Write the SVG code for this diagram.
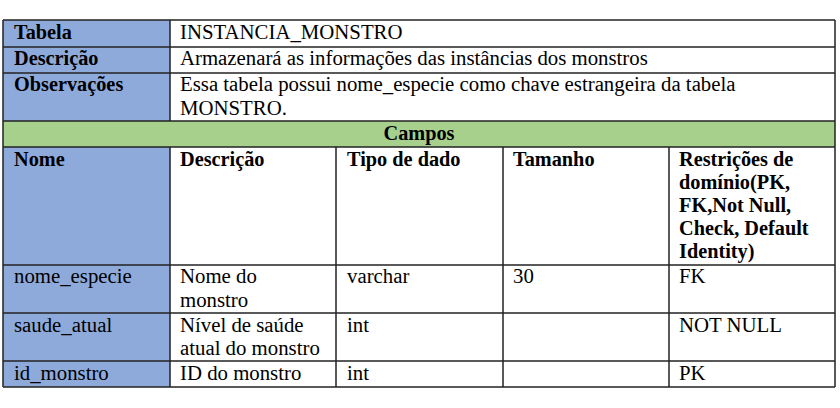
<svg xmlns="http://www.w3.org/2000/svg" width="840" height="408" viewBox="0 0 840 408">
<style>
text{font-family:"Liberation Serif","Times New Roman",serif;font-size:20.8px;fill:#000}
.b{font-weight:bold;font-size:20.3px}
.blue{fill:#8EAADB}
.green{fill:#A8D08D}
.grid line{stroke:#222;stroke-width:1.5}
</style>
<rect x="0" y="0" width="840" height="408" fill="#fff"/>
<g id="fills">
<rect class="blue" x="3" y="20" width="167" height="101"/>
<rect class="green" x="3" y="121" width="832" height="26"/>
<rect class="blue" x="3" y="147" width="167" height="240"/>
</g>
<g id="grid" class="grid">
<line x1="3" y1="20" x2="835" y2="20"/>
<line x1="3" y1="47" x2="835" y2="47"/>
<line x1="3" y1="73" x2="835" y2="73"/>
<line x1="3" y1="121" x2="835" y2="121"/>
<line x1="3" y1="147" x2="835" y2="147"/>
<line x1="3" y1="265" x2="835" y2="265"/>
<line x1="3" y1="313" x2="835" y2="313"/>
<line x1="3" y1="361" x2="835" y2="361"/>
<line x1="3" y1="387" x2="835" y2="387"/>
<line x1="3" y1="20" x2="3" y2="387"/>
<line x1="835" y1="20" x2="835" y2="387"/>
<line x1="170" y1="20" x2="170" y2="121"/>
<line x1="170" y1="147" x2="170" y2="387"/>
<line x1="336" y1="147" x2="336" y2="387"/>
<line x1="503" y1="147" x2="503" y2="387"/>
<line x1="669" y1="147" x2="669" y2="387"/>
</g>
<g id="meta">
<text class="b" x="14" y="39">Tabela</text>
<text x="180" y="39">INSTANCIA_MONSTRO</text>
<text class="b" x="14" y="65">Descrição</text>
<text x="180" y="65">Armazenará as informações das instâncias dos monstros</text>
<text class="b" x="14" y="91">Observações</text>
<text x="180" y="91">Essa tabela possui nome_especie como chave estrangeira da tabela</text>
<text x="180" y="115">MONSTRO.</text>
<text class="b" x="419" y="140" text-anchor="middle">Campos</text>
</g>
<g id="header">
<text class="b" x="14" y="165.5">Nome</text>
<text class="b" x="180" y="165.5">Descrição</text>
<text class="b" x="347" y="165.5">Tipo de dado</text>
<text class="b" x="513" y="165.5">Tamanho</text>
<text class="b" x="679" y="165.5">Restrições de</text>
<text class="b" x="679" y="188.7">domínio(PK,</text>
<text class="b" x="679" y="211.9">FK,Not Null,</text>
<text class="b" x="679" y="235.1">Check, Default</text>
<text class="b" x="679" y="258.3">Identity)</text>
</g>
<g id="row-nome_especie">
<text x="14" y="283.3">nome_especie</text>
<text x="180" y="283.3">Nome do</text>
<text x="180" y="306.7">monstro</text>
<text x="347" y="283.3">varchar</text>
<text x="513" y="283.3">30</text>
<text x="679" y="283.3">FK</text>
</g>
<g id="row-saude_atual">
<text x="14" y="331.7">saude_atual</text>
<text x="180" y="331.7">Nível de saúde</text>
<text x="180" y="355">atual do monstro</text>
<text x="347" y="331.7">int</text>
<text x="679" y="331.7">NOT NULL</text>
</g>
<g id="row-id_monstro">
<text x="14" y="380">id_monstro</text>
<text x="180" y="380">ID do monstro</text>
<text x="347" y="380">int</text>
<text x="679" y="380">PK</text>
</g>
</svg>
